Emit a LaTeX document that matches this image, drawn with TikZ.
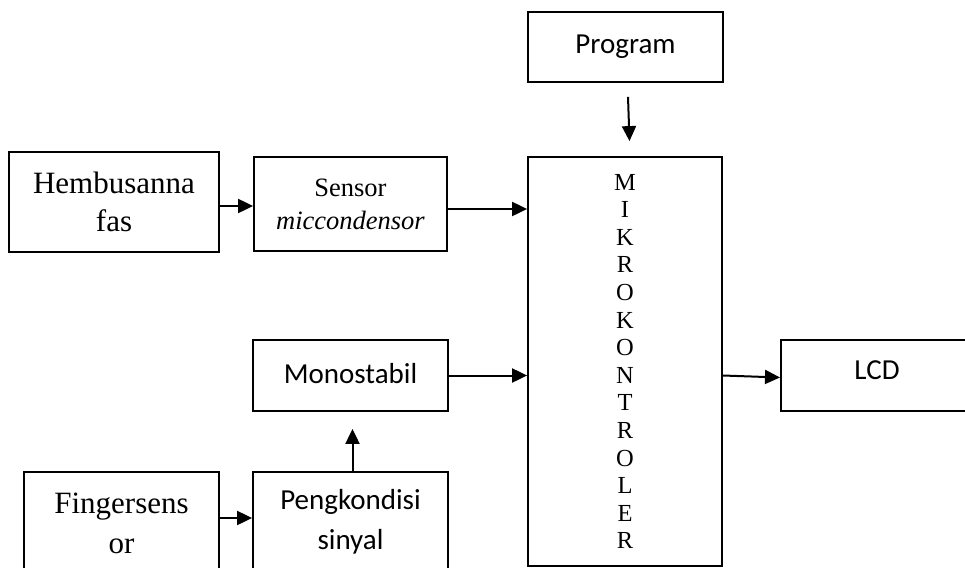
\documentclass[tikz,border=0pt]{standalone}
\usepackage{fontspec}
\setmainfont{Liberation Serif}
\newfontfamily\calfont{Carlito}
\usetikzlibrary{arrows.meta}
\begin{document}
\begin{tikzpicture}[x=1pt,y=-1pt,
  box/.style={draw=black,line width=1.8pt,rectangle,inner sep=0pt},
  serifbig/.style={font=\fontsize{31}{38}\selectfont,align=center},
  serifmid/.style={font=\fontsize{26.5}{33}\selectfont,align=center},
  calibri/.style={font=\calfont\fontsize{29}{40}\selectfont,align=center},
  arr/.style={line width=2pt,-{Triangle[length=15pt,width=14pt]}}]
\useasboundingbox[fill=white] (0,0) rectangle (965,567);

% boxes
\node[box,minimum width=195pt,minimum height=70pt,calibri] (prog) at (625.5,47) {\raisebox{5pt}{Program}};
\node[box,minimum width=194pt,minimum height=409pt,font=\fontsize{24.5}{27.6}\selectfont,align=center] (mikro) at (625,361.5)
  {M\\I\\K\\R\\O\\K\\O\\N\\T\\R\\O\\L\\E\\R};
\node[box,minimum width=210pt,minimum height=100pt,serifbig] (hemb) at (114,202) {Hembusanna\\fas};
\node[box,minimum width=193pt,minimum height=94pt,serifmid] (sensor) at (350.5,204) {Sensor\\\textit{miccondensor}};
\node[box,minimum width=195pt,minimum height=71pt,calibri] (mono) at (350.5,375.5) {\raisebox{5pt}{Monostabil}};
\node[box,minimum width=195pt,minimum height=71pt,anchor=west] (lcd) at (780,375.5) {};
\node[calibri] (lcdtext) at (877,370) {LCD};
\node[box,minimum width=195pt,minimum height=140pt,anchor=north] (finger) at (121.5,471) {};
\node[align=center,font=\fontsize{31}{40}\selectfont] (fingertext) at ([yshift=-52pt]finger.north) {Fingersens\\or};
\node[box,minimum width=195pt,minimum height=140pt,anchor=north] (peng) at (350.5,471) {};
\node[calibri] (pengtext) at ([yshift=-51pt]peng.north) {Pengkondisi\\sinyal};

% connectors
\draw[arr] ([yshift=-14pt,xshift=2.5pt]prog.south) -- ([yshift=15pt,xshift=4.5pt]mikro.north);
\draw[arr] ([yshift=-4pt]hemb.east) -- ([yshift=-2pt]sensor.west);
\draw[arr] ([yshift=-5pt]sensor.east) -- ([yshift=-5pt]sensor.east -| mikro.west);
\draw[arr] (mono.east) -- (mono.east -| mikro.west);
\draw[arr] (mikro.east |- mono.east) -- ([yshift=-2pt]lcd.west);
\draw[arr] ([xshift=2pt]peng.north) -- ([xshift=2pt,yshift=-17pt]mono.south);
\draw[arr] ([yshift=-47pt]finger.north east) -- ([yshift=-47pt]finger.north east -| peng.west);
\end{tikzpicture}
\end{document}
